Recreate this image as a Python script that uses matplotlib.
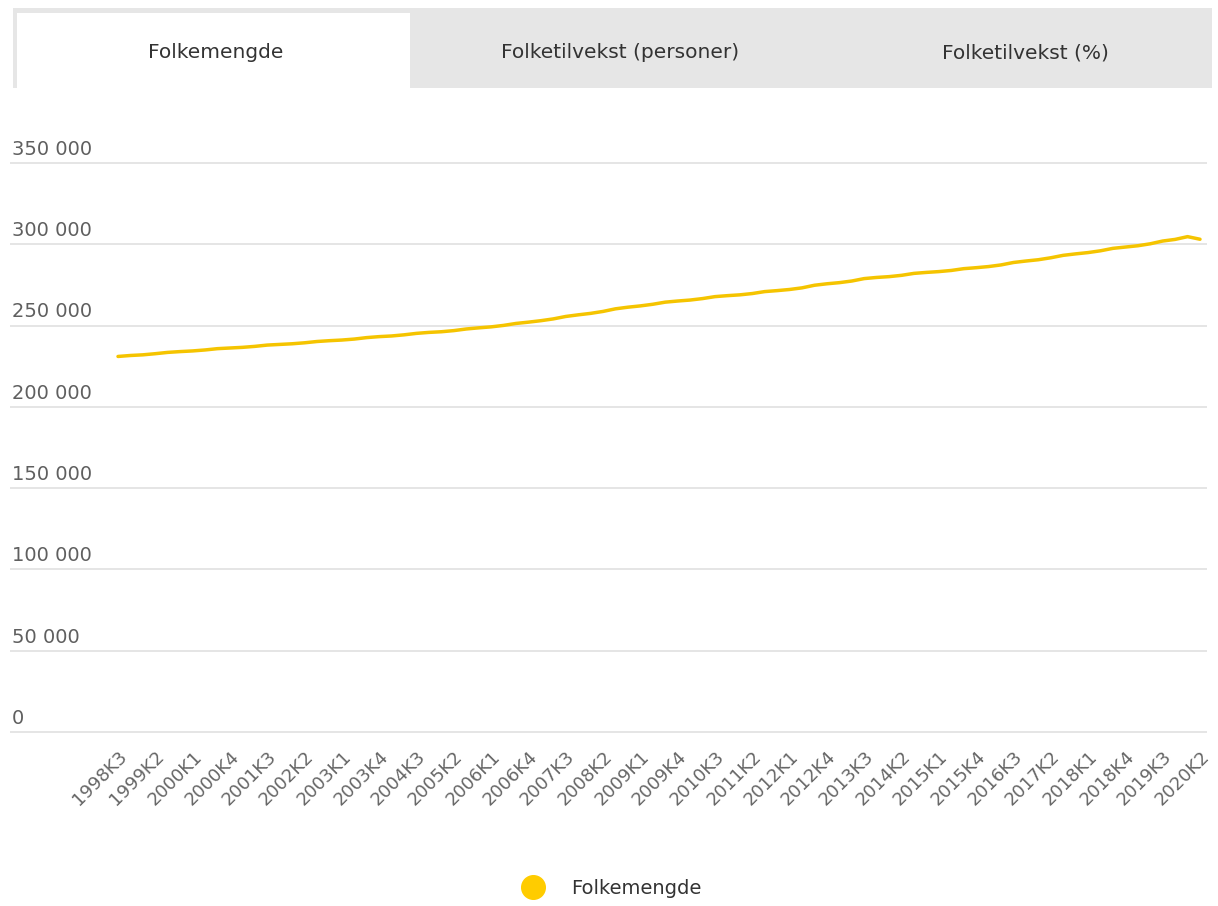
import matplotlib
matplotlib.use('Agg')
import matplotlib.pyplot as plt
from matplotlib.patches import Rectangle
from matplotlib.lines import Line2D

plt.rcParams['font.family'] = ['DejaVu Sans']

# Folkemengde per kvartal, 1998K3 - 2020K2
quarters = ['1998K3', '1998K4']
for yr in range(1999, 2020):
    quarters += [f'{yr}K{q}' for q in range(1, 5)]
quarters += ['2020K1', '2020K2']

folkemengde = [
    231000, 231600,
    232000, 232700, 233500, 234000,
    234400, 235000, 235800, 236200,
    236600, 237200, 238000, 238400,
    238800, 239400, 240200, 240700,
    241100, 241700, 242600, 243200,
    243600, 244300, 245200, 245800,
    246200, 246900, 247900, 248600,
    249200, 250100, 251300, 252100,
    253000, 254100, 255600, 256600,
    257500, 258700, 260300, 261300,
    262100, 263100, 264400, 265100,
    265700, 266600, 267800, 268400,
    268900, 269700, 270900, 271500,
    272200, 273200, 274800, 275700,
    276400, 277400, 278900, 279600,
    280100, 280900, 282100, 282700,
    283200, 283900, 285000, 285600,
    286300, 287300, 288800, 289700,
    290500, 291700, 293200, 294100,
    294900, 296000, 297500, 298300,
    299100, 300300, 302000, 303000,
    304700, 303100,
]

y_ticks = [0, 50000, 100000, 150000, 200000, 250000, 300000, 350000]
y_labels = ['0', '50 000', '100 000', '150 000', '200 000', '250 000', '300 000', '350 000']
tabs = ['Folkemengde', 'Folketilvekst (personer)', 'Folketilvekst (%)']

W, H = 1218, 906
fig = plt.figure(figsize=(W / 100, H / 100), dpi=100)
fig.patch.set_facecolor('white')

# plot area in pixel terms: x 10..1207, y 163 (350 000) .. 732 (0)
pad_px = 3
ax = fig.add_axes([10 / W, (H - 732 - pad_px) / H, 1197 / W, (732 - 163 + 2 * pad_px) / H])
per_px = 350000 / (732 - 163)
ax.set_ylim(-pad_px * per_px, 350000 + pad_px * per_px)
px_per_q = (1200 - 118) / (len(quarters) - 1)
ax.set_xlim(-(118 - 10) / px_per_q, len(quarters) - 1 + (1207 - 1200) / px_per_q)

x = list(range(len(quarters)))
line_color = '#f5c400'
ax.plot(x, folkemengde, color=line_color, linewidth=2.5, solid_capstyle='round', zorder=3)

for s in ax.spines.values():
    s.set_visible(False)
ax.set_yticks(y_ticks)
ax.tick_params(axis='y', left=False, labelleft=False)
ax.grid(axis='y', color='#e3e3e3', linewidth=1.3)
ax.set_axisbelow(True)

for v, lab in zip(y_ticks, y_labels):
    ax.annotate(lab, xy=(0, v), xycoords=('axes fraction', 'data'),
                xytext=(1.5, 3), textcoords='offset points',
                ha='left', va='bottom', fontsize=14, color='#5f5f5f')

ax.set_xticks(x[::3])
ax.set_xticklabels(quarters[::3], rotation=45, ha='right', rotation_mode='anchor',
                   fontsize=13, color='#666666')
ax.tick_params(axis='x', length=0, pad=9)

# tab strip on top
ov = fig.add_axes([0, 0, 1, 1], zorder=-1)
ov.set_xlim(0, W)
ov.set_ylim(H, 0)
ov.axis('off')
ov.add_patch(Rectangle((13, 8), 1199, 80, facecolor='#e6e6e6', edgecolor='none'))
ov.add_patch(Rectangle((17, 13), 393, 75, facecolor='white', edgecolor='none'))
for cx, t in zip([216, 620, 1025], tabs):
    ov.text(cx, 53, t, ha='center', va='center', fontsize=14.5, color='#333333')

# legend
handle = Line2D([], [], marker='o', linestyle='none', markersize=17,
                markerfacecolor='#ffcc00', markeredgecolor='#ffcc00')
fig.legend([handle], ['Folkemengde'], loc='center left',
           bbox_to_anchor=(523 / W, (H - 888) / H), frameon=False,
           fontsize=14, handlelength=1.0, handletextpad=1.45,
           borderpad=0, borderaxespad=0, labelcolor='#333333')

fig.savefig('out.png', dpi=100)
